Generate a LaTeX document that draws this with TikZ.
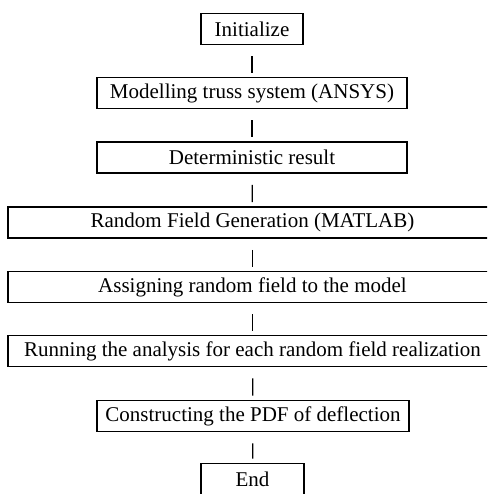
\documentclass[tikz,border=0pt]{standalone}
\usepackage{fontspec}
\setmainfont{Liberation Serif}
\begin{document}
\begin{tikzpicture}[x=1pt, y=1pt,
    box/.style={draw, line width=1.6pt, minimum height=31pt, inner sep=0pt,
      font=\fontsize{21}{25}\selectfont},
    link/.style={line width=1.2pt, shorten <=11pt, shorten >=4pt}]
    \useasboundingbox (0,0) rectangle (487,-494);
    \clip (0,0) rectangle (487,-494);

    % Steps of the procedure
    \node[box, minimum width=102pt] (init) at (252,-29) {Initialize};
    \node[box, minimum width=310pt] (model) at (252,-93) {Modelling truss system (ANSYS)};
    \node[box, minimum width=310pt] (determ) at (252,-157.5) {Deterministic result};

    % Wide boxes (cut off at the right)
    \node[box, minimum width=489pt] (rfgen) at (252.5,-222.5) {Random Field Generation (MATLAB)};
    \node[box, minimum width=489pt] (assign) at (252.5,-287) {Assigning random field to the model};
    \node[box, minimum width=489pt] (run) at (252.5,-351) {Running the analysis for each random field realization};

    \node[box, minimum width=312pt] (pdf) at (253,-416) {Constructing the PDF of deflection};
    \node[box, minimum width=103pt] (stop) at (252.5,-479) {End};

    % Connectors
    \draw[link] (init) -- (model);
    \draw[link] (model) -- (determ);
    \draw[link] (determ) -- (rfgen);
    \draw[link] (rfgen) -- (assign);
    \draw[link] (assign) -- (run);
    \draw[link] (run) -- (pdf);
    \draw[link] (pdf) -- (stop);
\end{tikzpicture}
\end{document}
